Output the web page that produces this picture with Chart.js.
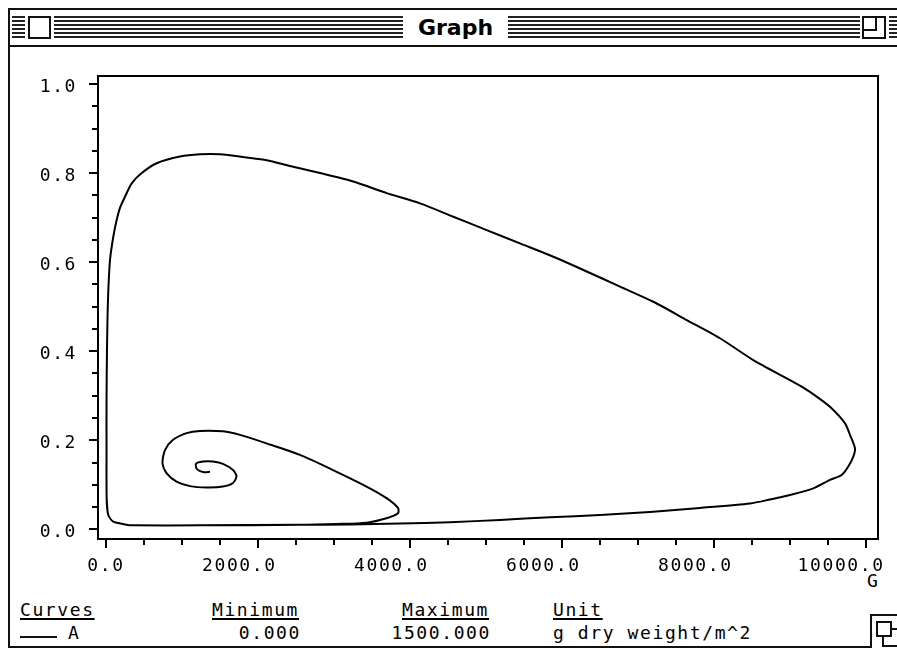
<!DOCTYPE html>
<html>
<head>
<meta charset="utf-8">
<script src="https://cdn.jsdelivr.net/npm/chart.js@4.4.1/dist/chart.umd.min.js"></script>
<style>
  html, body { margin:0; padding:0; background:#fff; }
  #win { position:relative; width:897px; height:648px; overflow:hidden; background:#fff; }
  .ln { position:absolute; background:#111; }
  .st { position:absolute; top:16px; height:22px;
        background: repeating-linear-gradient(to bottom, #222 0px, #222 2px, #fff 2px, #fff 4px); }
  .box { position:absolute; border:2px solid #111; background:#fff; box-sizing:border-box; }
  .mono { position:absolute; font-family:'DejaVu Sans Mono', monospace; font-size:18px;
          letter-spacing:1.6px; line-height:18px; color:#000; white-space:pre; }
  .ul { text-decoration: underline; text-decoration-thickness:2px; text-underline-offset:2px; }
  #title { position:absolute; left:403px; width:105px; top:17px; text-align:center;
           font-family:'DejaVu Sans', sans-serif; font-weight:bold; font-size:22px; line-height:22px; color:#000; }
  canvas { position:absolute; left:0; top:0; }
</style>
</head>
<body>
<div id="win">
  <!-- window frame -->
  <div class="ln" style="left:8px; top:8px; width:889px; height:2px;"></div>
  <div class="ln" style="left:8px; top:8px; width:2px; height:640px;"></div>
  <div class="ln" style="left:8px; top:45px; width:889px; height:2px;"></div>
  <div class="ln" style="left:8px; top:646px; width:889px; height:2px;"></div>
  <!-- title bar -->
  <div class="st" style="left:12px; width:13px;"></div>
  <div class="box" style="left:28px; top:16px; width:23px; height:23px;"></div>
  <div class="st" style="left:54px; width:349px;"></div>
  <div id="title">Graph</div>
  <div class="st" style="left:508px; width:352px;"></div>
  <div class="box" style="left:862px; top:16px; width:24px; height:23px;"></div>
  <div class="ln" style="left:875px; top:16px; width:2px; height:15px;"></div>
  <div class="ln" style="left:862px; top:29px; width:15px; height:2px;"></div>
  <div class="st" style="left:889px; width:8px;"></div>
  <!-- grow box -->
  <div class="box" style="left:870px; top:614px; width:30px; height:40px;"></div>
  <div class="box" style="left:882px; top:628px; width:24px; height:19px;"></div>
  <div class="box" style="left:876px; top:621px; width:16px; height:16px;"></div>

  <!-- legend / info -->
  <div class="mono ul" style="left:20px; top:601px;">Curves</div>
  <div class="ln" style="left:20px; top:636px; width:37px; height:2px;"></div>
  <div class="mono" style="left:68px; top:624px;">A</div>
  <div class="mono ul" style="left:212px; top:601px;">Minimum</div>
  <div class="mono" style="left:212px; width:89px; text-align:right; top:624px;">0.000</div>
  <div class="mono ul" style="left:402px; top:601px;">Maximum</div>
  <div class="mono" style="left:390px; width:101px; text-align:right; top:624px;">1500.000</div>
  <div class="mono ul" style="left:553px; top:601px;">Unit</div>
  <div class="mono" style="left:553px; top:624px;">g dry weight/m^2</div>
  <div class="mono" style="left:867px; top:572px;">G</div>

  <canvas id="c" width="897" height="648"></canvas>
</div>
<script>
// ---- data (curve A: x = G, y = second state variable) ----
const CURVE_X = [1368,1289,1197,1184,1276,1408,1539,1671,1717,1671,1539,1322,1105,928,796,743,776,882,1059,1237,1539,1763,2112,2553,2987,3428,3691,3842,3842,3691,3428,3033,2553,1237,355,250,96,30,9,7,7,13,26,53,96,141,184,250,338,470,667,974,1237,1500,1851,2114,2421,2816,3254,3693,4132,4570,5009,5447,5886,6325,6763,7201,7641,8079,8517,9000,9175,9351,9526,9724,9789,9855,9833,9767,9680,9526,9307,9000,8737,8474,7816,7158,6500,5842,5184,4526,3868,3211,2553,1237,355,250,96,30,9];
const CURVE_Y = [0.129,0.128,0.135,0.147,0.152,0.152,0.147,0.133,0.119,0.104,0.096,0.094,0.097,0.107,0.126,0.148,0.178,0.201,0.216,0.221,0.220,0.212,0.193,0.167,0.133,0.096,0.070,0.048,0.036,0.025,0.015,0.012,0.010,0.009,0.009,0.011,0.017,0.032,0.066,0.178,0.290,0.403,0.515,0.605,0.657,0.695,0.722,0.747,0.777,0.800,0.822,0.837,0.842,0.842,0.835,0.829,0.816,0.800,0.781,0.755,0.732,0.702,0.672,0.642,0.612,0.579,0.545,0.511,0.470,0.429,0.380,0.335,0.318,0.298,0.275,0.238,0.212,0.182,0.163,0.141,0.122,0.111,0.092,0.077,0.067,0.058,0.048,0.039,0.032,0.027,0.021,0.016,0.013,0.011,0.010,0.009,0.009,0.011,0.017,0.032,0.066];
const X_TICK_LABELS = ['0.0','2000.0','4000.0','6000.0','8000.0','10000.0'];
const Y_TICK_LABELS = ['0.0','0.2','0.4','0.6','0.8','1.0'];
const X_MINOR_STEP = 500;
const Y_MINOR_STEP = 0.05;

const xMajor = X_TICK_LABELS.map(parseFloat);
const yMajor = Y_TICK_LABELS.map(parseFloat);
const near = (a,b,eps) => Math.abs(a-b) < eps;

function minorTicks(majors, step){
  const out = [];
  const lo = majors[0], hi = majors[majors.length-1];
  const n = Math.round((hi-lo)/step);
  for (let i=0;i<=n;i++) out.push(+(lo + i*step).toFixed(6));
  return out;
}
// pad label so that the decimal point sits on the tick when centred (monospace)
function padLabel(s){
  const d = s.indexOf('.');
  const k = 2*d + 1 - s.length;
  return k > 0 ? s + ' '.repeat(k) : s;
}
function zeroPad(s){ s.paddingLeft = 0; s.paddingRight = 0; s.paddingTop = 0; s.paddingBottom = 0; }

const points = CURVE_X.map((x,i)=>({x:x, y:CURVE_Y[i]}));

const framePlugin = {
  id:'frame',
  beforeDraw(chart){ try { chart.ctx.letterSpacing = '1.6px'; } catch(e){} },
  afterDraw(chart){
    const {ctx, chartArea:a, scales} = chart;
    ctx.save();
    try { ctx.letterSpacing = '0px'; } catch(e){}
    ctx.strokeStyle = '#000';
    ctx.lineWidth = 2;
    ctx.strokeRect(a.left, a.top, a.right-a.left, a.bottom-a.top);
    ctx.beginPath();
    scales.y.ticks.forEach(t=>{
      const major = yMajor.some(v=>near(v,t.value,1e-6));
      const py = Math.round(scales.y.getPixelForValue(t.value));
      ctx.moveTo(a.left - (major?9:6), py);
      ctx.lineTo(a.left, py);
    });
    scales.x.ticks.forEach(t=>{
      const major = xMajor.some(v=>near(v,t.value,1e-6));
      const px = Math.round(scales.x.getPixelForValue(t.value));
      ctx.moveTo(px, a.bottom);
      ctx.lineTo(px, a.bottom + (major?9:6));
    });
    ctx.stroke();
    ctx.restore();
  }
};

new Chart(document.getElementById('c'), {
  type:'scatter',
  data:{ datasets:[{
    label:'A',
    data: points,
    showLine:true,
    borderColor:'#000',
    borderWidth:2,
    pointRadius:0,
    tension:0.25,
    fill:false
  }]},
  options:{
    responsive:false,
    animation:false,
    devicePixelRatio:1,
    layout:{ padding:{ left:0, top:76, right:19, bottom:0 } },
    plugins:{ legend:{display:false}, tooltip:{enabled:false}, title:{display:false} },
    scales:{
      x:{
        type:'linear', min:-105.3, max:10157.9,
        grid:{ display:false }, border:{ display:false },
        afterBuildTicks(s){ s.ticks = minorTicks(xMajor, X_MINOR_STEP).map(v=>({value:v})); },
        afterFit(s){ s.height = 109; zeroPad(s); },
        ticks:{
          autoSkip:false, maxRotation:0, minRotation:0, padding:9,
          color:'#000', font:{ family:'DejaVu Sans Mono', size:18 },
          callback(v){ const i = xMajor.findIndex(m=>near(m,v,1e-6)); return i>=0 ? padLabel(X_TICK_LABELS[i]) : ''; }
        }
      },
      y:{
        type:'linear', min:-0.02178, max:1.01797,
        grid:{ display:false }, border:{ display:false },
        afterBuildTicks(s){ s.ticks = minorTicks(yMajor, Y_MINOR_STEP).map(v=>({value:v})); },
        afterFit(s){ s.width = 98; zeroPad(s); },
        ticks:{
          autoSkip:false, padding:13, labelOffset:3.5,
          color:'#000', font:{ family:'DejaVu Sans Mono', size:18 },
          callback(v){ const i = yMajor.findIndex(m=>near(m,v,1e-6)); return i>=0 ? Y_TICK_LABELS[i] : ''; }
        }
      }
    }
  },
  plugins:[framePlugin]
});
</script>
</body>
</html>
